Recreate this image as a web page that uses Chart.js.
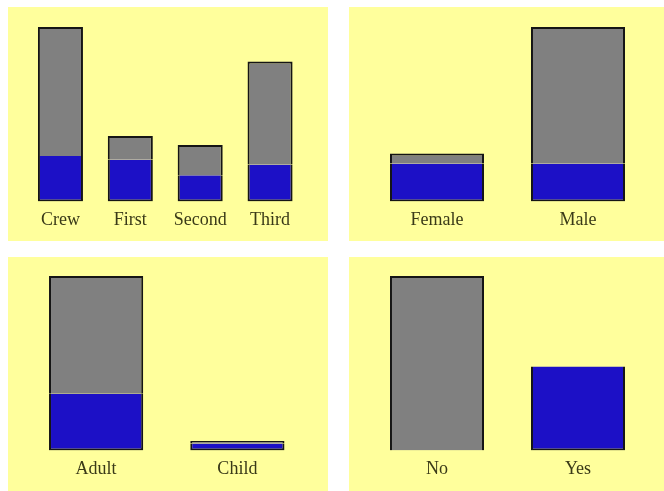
<!DOCTYPE html>
<html>
<head>
<meta charset="utf-8">
<script src="https://cdn.jsdelivr.net/npm/chart.js@4"></script>
<style>
	html, body { margin: 0; padding: 0; background: #fff; }
	body { width: 664px; height: 491px; position: relative; overflow: hidden; }
	.panel { position: absolute; background: #ffff9c; }
	.panel canvas { display: block; }
</style>
</head>
<body>
<div class="panel" style="left:8px;top:7px;width:320px;height:234px"><canvas id="c1"></canvas></div>
<div class="panel" style="left:349px;top:7px;width:315px;height:234px"><canvas id="c2"></canvas></div>
<div class="panel" style="left:8px;top:257px;width:320px;height:234px"><canvas id="c3"></canvas></div>
<div class="panel" style="left:349px;top:257px;width:315px;height:234px"><canvas id="c4"></canvas></div>
<script>
// Titanic passengers, survived / died by group
var classLabels = ['Crew', 'First', 'Second', 'Third'];
var classSurvived = [230, 213, 133, 187];
var classDied = [655, 119, 153, 523];

var sexLabels = ['Female', 'Male'];
var sexSurvived = [376, 376];
var sexDied = [100, 1355];

var ageLabels = ['Adult', 'Child'];
var ageSurvived = [680, 82];
var ageDied = [1412, 32];

var survLabels = ['No', 'Yes'];
var survSurvived = [null, 716];
var survDied = [1490, null];

function makeChart(id, labels, survived, died, pad, barPct) {
	var ctx = document.getElementById(id);
	var total = labels.map(function (l, i) { return (survived[i] || 0) + (died[i] || 0); });
	return new Chart(ctx, {
		type: 'bar',
		data: {
			labels: labels,
			datasets: [{
				label: 'Survived',
				data: survived,
				backgroundColor: '#1c10c6',
				borderColor: '#151515',
				borderWidth: { left: 2, right: 2, bottom: 2, top: 0 },
				borderSkipped: false,
				categoryPercentage: 1,
				barPercentage: barPct
			},
			{
				label: 'Died',
				data: died,
				backgroundColor: '#808080',
				borderColor: '#151515',
				borderWidth: { left: 2, right: 2, top: 2, bottom: 0 },
				borderSkipped: false,
				categoryPercentage: 1,
				barPercentage: barPct
			}]
		},
		options: {
			responsive: true,
			maintainAspectRatio: false,
			animation: false,
			layout: { padding: pad },
			plugins: {
				legend: { display: false },
				tooltip: { enabled: false }
			},
			scales: {
				x: {
					stacked: true,
					grid: { display: false, drawTicks: false },
					border: { display: false },
					ticks: {
						padding: 8,
						color: '#3a3a18',
						font: { family: '"Liberation Serif", "DejaVu Serif", serif', size: 18 }
					}
				},
				y: {
					stacked: true,
					display: false,
					min: 0,
					max: Math.max.apply(null, total)
				}
			}
		}
	});
}

document.addEventListener("DOMContentLoaded", function (event) {
	makeChart('c1', classLabels, classSurvived, classDied, { left: 17.5, right: 23, top: 20, bottom: 2 }, 0.645);
	makeChart('c2', sexLabels, sexSurvived, sexDied, { left: 17.5, right: 15.5, top: 20, bottom: 2 }, 0.667);
	makeChart('c3', ageLabels, ageSurvived, ageDied, { left: 17.5, right: 20, top: 19, bottom: 3 }, 0.667);
	makeChart('c4', survLabels, survSurvived, survDied, { left: 17.5, right: 15.5, top: 19, bottom: 3 }, 0.667);
});
</script>
</body>
</html>
